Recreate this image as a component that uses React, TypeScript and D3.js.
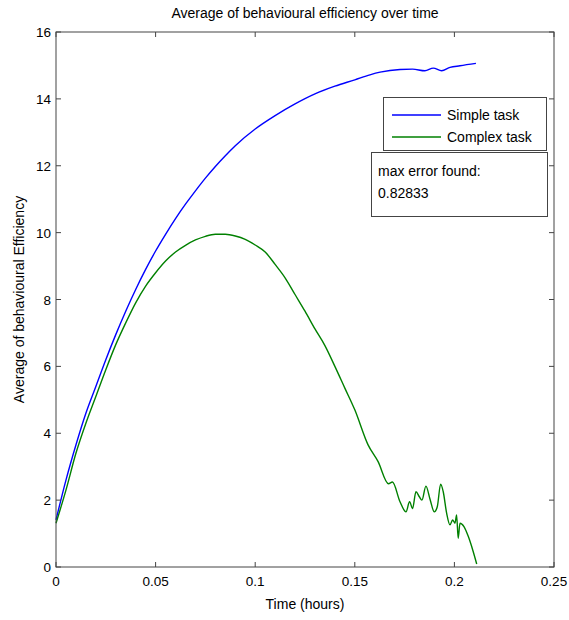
import React from "react";
import * as d3 from "d3";

const simpleT = [0, 0.005, 0.01, 0.015, 0.02, 0.025, 0.03, 0.035, 0.04, 0.045, 0.05, 0.055, 0.06, 0.065, 0.07, 0.075, 0.08, 0.085, 0.09, 0.1, 0.11, 0.12, 0.13, 0.14, 0.15, 0.1576, 0.1627, 0.1727, 0.179, 0.1852, 0.1894, 0.1936, 0.1978, 0.2028, 0.2108];
const simpleV = [1.41, 2.6, 3.65, 4.6, 5.4, 6.2, 6.95, 7.65, 8.3, 8.9, 9.45, 9.95, 10.42, 10.85, 11.25, 11.63, 11.98, 12.3, 12.6, 13.1, 13.5, 13.85, 14.15, 14.38, 14.57, 14.72, 14.8, 14.88, 14.89, 14.84, 14.92, 14.84, 14.94, 14.99, 15.06];

const complexT = [0, 0.005, 0.01, 0.015, 0.02, 0.025, 0.03, 0.035, 0.04, 0.045, 0.05, 0.055, 0.06, 0.065, 0.07, 0.075, 0.08, 0.085, 0.09, 0.095, 0.1, 0.105, 0.11, 0.115, 0.12, 0.125, 0.13, 0.135, 0.14, 0.145, 0.15, 0.1566, 0.1617, 0.1669, 0.1689, 0.1727, 0.1757, 0.1775, 0.179, 0.1807, 0.1824, 0.1837, 0.1857, 0.1878, 0.1899, 0.1914, 0.1931, 0.1944, 0.1961, 0.1978, 0.1991, 0.2003, 0.2011, 0.2019, 0.2028, 0.2048, 0.207, 0.2092, 0.2112];
const complexV = [1.31, 2.3, 3.4, 4.3, 5.1, 5.9, 6.65, 7.3, 7.9, 8.4, 8.8, 9.15, 9.42, 9.62, 9.78, 9.89, 9.95, 9.95, 9.9, 9.8, 9.63, 9.42, 9.05, 8.65, 8.15, 7.65, 7.12, 6.62, 6.0, 5.35, 4.7, 3.66, 3.15, 2.49, 2.54, 1.95, 1.65, 1.95, 1.75, 2.25, 2.1, 2.0, 2.42, 2.02, 1.65, 1.8, 2.48, 2.25, 1.61, 1.26, 1.41, 1.31, 1.56, 0.86, 1.31, 1.21, 0.91, 0.51, 0.09];

const xTicks = [0, 0.05, 0.1, 0.15, 0.2, 0.25];
const yTicks = [0, 2, 4, 6, 8, 10, 12, 14, 16];
const seriesNames = ["Simple task", "Complex task"];
const seriesColors = ["#0000ff", "#008000"];
const annotation = ["max error found:", "0.82833"];

const W = 569, H = 620;
const L = 56, R = 554, T = 32, B = 567;
const font = "'Liberation Sans', Arial, Helvetica, sans-serif";

export default function App() {
  const x = d3.scaleLinear().domain([0, 0.25]).range([L, R]);
  const y = d3.scaleLinear().domain([0, 16]).range([B, T]);
  const line = d3.line<[number, number]>().x(d => x(d[0])).y(d => y(d[1])).curve(d3.curveMonotoneX);
  const sData: [number, number][] = simpleT.map((t, i) => [t, simpleV[i]]);
  const cData: [number, number][] = complexT.map((t, i) => [t, complexV[i]]);
  const axisColor = "#444";
  const tl = 5;
  return (
    <svg width={W} height={H} style={{ position: "absolute", left: 0, top: 0, background: "#fff" }} fontFamily={font}>
      <rect x={0} y={0} width={W} height={H} fill="#fff" />
      <text x={(L + R) / 2} y={18} textAnchor="middle" fontSize={14} fill="#000">Average of behavioural efficiency over time</text>
      <path d={line(sData) || ""} fill="none" stroke={seriesColors[0]} strokeWidth={1.4} />
      <path d={line(cData) || ""} fill="none" stroke={seriesColors[1]} strokeWidth={1.4} />
      <rect x={L} y={T} width={R - L} height={B - T} fill="none" stroke={axisColor} strokeWidth={1} />
      {xTicks.map(t => (
        <g key={"x" + t}>
          <line x1={x(t)} x2={x(t)} y1={B} y2={B - tl} stroke={axisColor} />
          <line x1={x(t)} x2={x(t)} y1={T} y2={T + tl} stroke={axisColor} />
          <text x={x(t)} y={B + 19} textAnchor="middle" fontSize={13.5} fill="#000">{String(t)}</text>
        </g>
      ))}
      {yTicks.map(v => (
        <g key={"y" + v}>
          <line x1={L} x2={L + tl} y1={y(v)} y2={y(v)} stroke={axisColor} />
          <line x1={R} x2={R - tl} y1={y(v)} y2={y(v)} stroke={axisColor} />
          <text x={L - 5} y={y(v) + 5} textAnchor="end" fontSize={13.5} fill="#000">{String(v)}</text>
        </g>
      ))}
      <text x={(L + R) / 2} y={609} textAnchor="middle" fontSize={14} fill="#000">Time (hours)</text>
      <text transform={`translate(24, ${(T + B) / 2}) rotate(-90)`} textAnchor="middle" fontSize={14} fill="#000">Average of behavioural Efficiency</text>
      <rect x={383.5} y={97.5} width={163} height={53} fill="#fff" stroke={axisColor} />
      {seriesNames.map((n, i) => (
        <g key={n}>
          <line x1={392} x2={441} y1={115 + i * 22} y2={115 + i * 22} stroke={seriesColors[i]} strokeWidth={1.4} />
          <text x={447} y={120 + i * 22} fontSize={14} fill="#000">{n}</text>
        </g>
      ))}
      <rect x={371.5} y={152.5} width={176} height={64} fill="#fff" stroke={axisColor} />
      {annotation.map((s, i) => (
        <text key={s} x={378} y={176 + i * 22} fontSize={14} fill="#000">{s}</text>
      ))}
    </svg>
  );
}
